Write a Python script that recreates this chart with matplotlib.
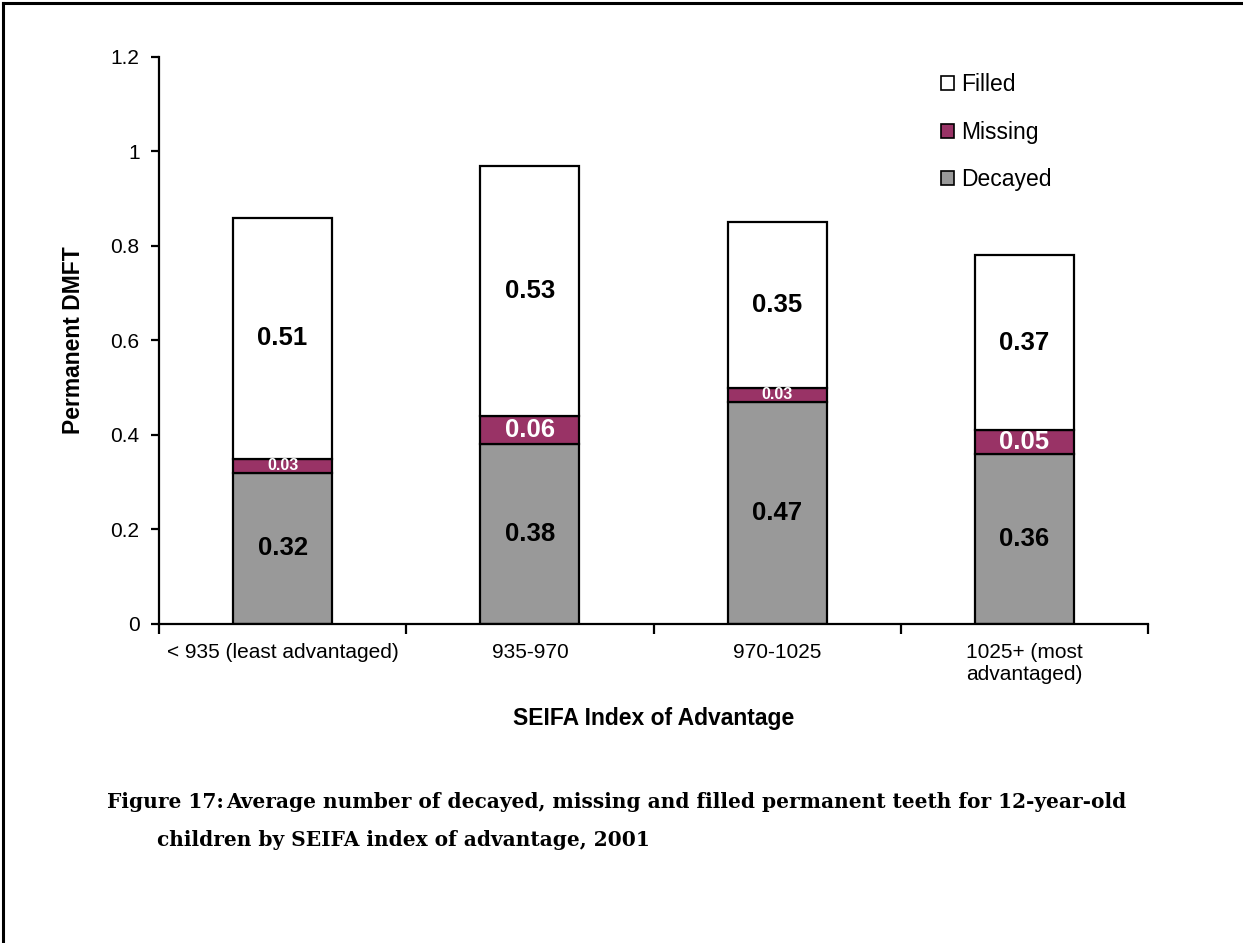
import matplotlib.pyplot as plt
from matplotlib.patches import Patch
from matplotlib.lines import Line2D

plt.rcParams['font.family'] = ['Liberation Sans', 'DejaVu Sans']

# data
categories = ['< 935 (least advantaged)', '935-970', '970-1025', '1025+ (most\nadvantaged)']
decayed = [0.32, 0.38, 0.47, 0.36]
missing = [0.03, 0.06, 0.03, 0.05]
filled = [0.51, 0.53, 0.35, 0.37]

GREY = '#999999'
PLUM = '#993366'

fig = plt.figure(figsize=(12.43, 9.43), dpi=100)
ax = fig.add_axes([0.1279, 0.3383, 0.7957, 0.6013])

x = list(range(len(categories)))
w = 0.4
bot2 = [d + m for d, m in zip(decayed, missing)]
ax.bar(x, decayed, w, color=GREY, edgecolor='black', linewidth=1.6)
ax.bar(x, missing, w, bottom=decayed, color=PLUM, edgecolor='black', linewidth=1.6)
ax.bar(x, filled, w, bottom=bot2, color='white', edgecolor='black', linewidth=1.6)

# value labels
for i in x:
    ax.text(i, decayed[i] / 2, f'{decayed[i]:.2f}', ha='center', va='center',
            fontsize=18.5, fontweight='bold', color='black')
    small = missing[i] < 0.04
    ax.text(i, decayed[i] + missing[i] / 2, f'{missing[i]:.2f}', ha='center', va='center',
            fontsize=11.5 if small else 18.5, fontweight='bold', color='white')
    ax.text(i, bot2[i] + filled[i] / 2, f'{filled[i]:.2f}', ha='center', va='center',
            fontsize=18.5, fontweight='bold', color='black')

ax.set_xlim(-0.5, len(categories) - 0.5)
ax.set_ylim(0, 1.2)
ax.set_yticks([0, 0.2, 0.4, 0.6, 0.8, 1.0, 1.2])
ax.set_yticklabels(['0', '0.2', '0.4', '0.6', '0.8', '1', '1.2'])
ax.set_xticks([k - 0.5 for k in range(len(categories) + 1)], minor=False)
ax.set_xticklabels([])
ax.set_xticks(x, minor=True)
ax.set_xticklabels(categories, minor=True)
ax.tick_params(axis='x', which='minor', length=0, pad=14, labelsize=15)
ax.tick_params(axis='x', which='major', direction='out', length=7, width=1.6)
ax.tick_params(axis='y', direction='out', length=6, width=1.6, labelsize=15, pad=8)

for s in ['top', 'right']:
    ax.spines[s].set_visible(False)
for s in ['left', 'bottom']:
    ax.spines[s].set_linewidth(1.6)

ax.set_ylabel('Permanent DMFT', fontsize=16.5, fontweight='bold', labelpad=18)
ax.set_xlabel('SEIFA Index of Advantage', fontsize=16.5, fontweight='bold', labelpad=16)

handles = [Patch(facecolor='white', edgecolor='black', linewidth=1.2),
           Patch(facecolor=PLUM, edgecolor='black', linewidth=1.2),
           Patch(facecolor=GREY, edgecolor='black', linewidth=1.2)]
ax.legend(handles, ['Filled', 'Missing', 'Decayed'], loc='upper left',
          bbox_to_anchor=(0.791, 0.971), frameon=False, fontsize=16.5,
          borderpad=0, borderaxespad=0,
          handlelength=0.55, handleheight=0.55, handletextpad=0.3, labelspacing=1.07)

# caption
cap_font = dict(fontsize=14.5, fontweight='bold', family=['DejaVu Serif'], va='center', ha='left')
fig.text(107 / 1243, 1 - 802 / 943, 'Figure 17:', **cap_font)
fig.text(226 / 1243, 1 - 802 / 943,
         'Average number of decayed, missing and filled permanent teeth for 12-year-old', **cap_font)
fig.text(157 / 1243, 1 - 840 / 943, 'children by SEIFA index of advantage, 2001', **cap_font)

# page border (top and left)
fig.add_artist(Line2D([3 / 1243, 1], [1 - 3 / 943, 1 - 3 / 943], transform=fig.transFigure,
                      color='black', linewidth=2.2))
fig.add_artist(Line2D([3 / 1243, 3 / 1243], [0, 1 - 3 / 943], transform=fig.transFigure,
                      color='black', linewidth=2.2))

fig.savefig('out.png', dpi=100)
